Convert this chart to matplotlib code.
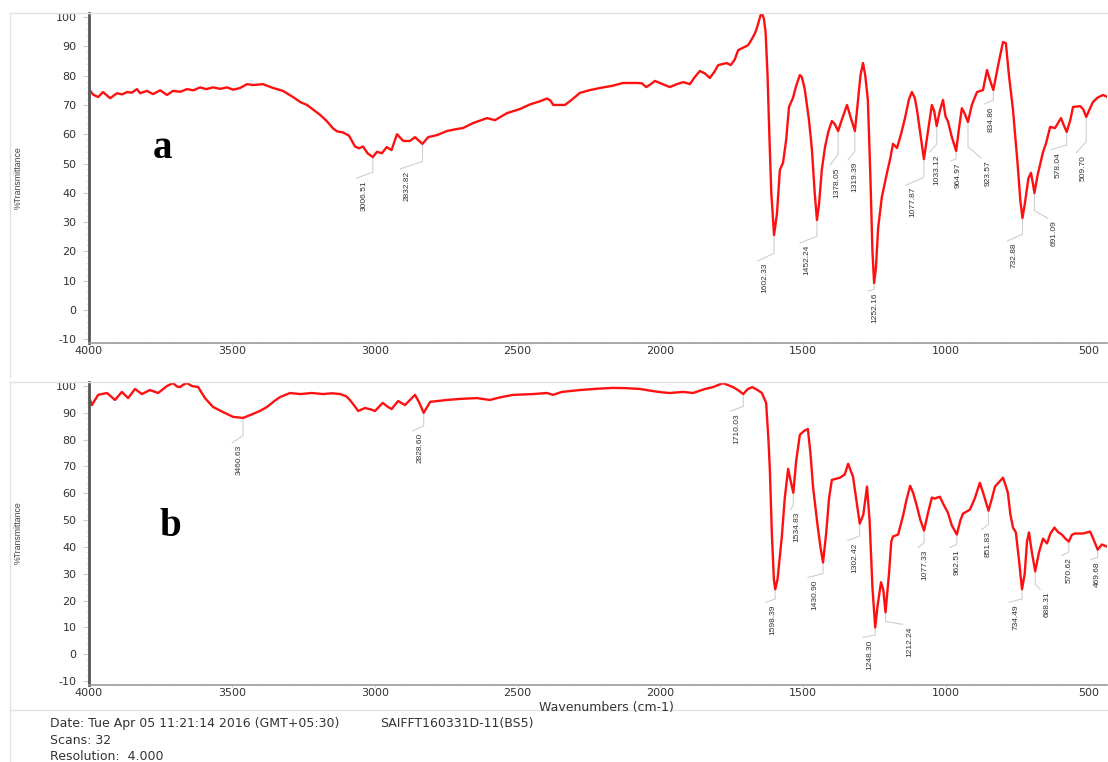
import matplotlib
matplotlib.use("Agg")
import matplotlib.pyplot as plt
import numpy as np
from matplotlib.lines import Line2D
from matplotlib.ticker import MultipleLocator

plt.rcParams["axes.unicode_minus"] = False

# spectrum a
wn_a = [4000, 3985, 3968, 3951, 3926, 3902, 3884, 3867, 3850, 3832, 3821, 3797, 3776, 3751,
        3727, 3706, 3680, 3657, 3635, 3611, 3590, 3566, 3540, 3517, 3495, 3471, 3447, 3426,
        3391, 3356, 3321, 3286, 3261, 3237, 3191, 3167, 3146, 3132, 3111, 3090, 3069, 3055,
        3041, 3025, 3006.51, 2992, 2975, 2958, 2941, 2922, 2900, 2877, 2859, 2832.82, 2813,
        2782, 2747, 2712, 2691, 2656, 2607, 2579, 2537, 2492, 2456, 2420, 2397, 2385, 2375,
        2334, 2310, 2282, 2250, 2211, 2170, 2131, 2082, 2065, 2050, 2035, 2019, 1995, 1967,
        1945, 1920, 1897, 1880, 1862, 1845, 1827, 1810, 1798, 1768, 1754, 1740, 1728, 1705,
        1693, 1680, 1669, 1660, 1650, 1645, 1638, 1632, 1625, 1619, 1612, 1602.33, 1592, 1582,
        1571, 1560, 1550, 1536, 1525, 1512, 1505, 1495, 1480, 1470, 1460, 1452.24, 1445, 1435,
        1424, 1412, 1400, 1390, 1378.05, 1365, 1347, 1335, 1319.39, 1310, 1300, 1291, 1283,
        1274, 1265, 1258, 1252.16, 1246, 1238, 1225, 1207, 1195, 1186, 1172, 1158, 1144, 1130,
        1120, 1110, 1102, 1090, 1077.87, 1065, 1050, 1042, 1033.12, 1022, 1011, 1002, 994, 980,
        964.97, 955, 945, 935, 923.57, 910, 892, 871, 857, 845, 834.86, 815, 801, 791, 780,
        766, 750, 740, 732.88, 725, 712, 703, 696, 691.09, 680, 661, 650, 636, 619, 598, 590,
        578.04, 565, 556, 531, 520, 509.70, 498, 486, 470, 451, 437]
t_a = [75.3, 73.5, 72.7, 74.4, 72.3, 74.0, 73.6, 74.4, 74.2, 75.4, 74.0, 74.8, 73.7, 75.0,
       73.4, 74.8, 74.5, 75.4, 75.0, 76.0, 75.4, 76.0, 75.5, 76.0, 75.2, 75.8, 77.1, 76.8,
       77.1, 75.8, 74.8, 72.7, 71.0, 70.0, 66.6, 64.4, 62.0, 61.0, 60.6, 59.5, 55.8, 55.2,
       55.8, 53.5, 52.2, 54.0, 53.5, 55.6, 54.6, 60.0, 57.7, 57.7, 59.0, 56.7, 59.0,
       59.7, 61.1, 61.8, 62.1, 63.8, 65.5, 64.8, 67.2, 68.6, 70.2, 71.3, 72.2, 71.5, 70.0,
       70.0, 71.8, 74.1, 75.0, 75.8, 76.5, 77.5, 77.5, 77.4, 76.1, 77.0, 78.2, 77.2, 76.1,
       77.0, 77.8, 77.1, 79.5, 81.6, 80.8, 79.2, 81.5, 83.6, 84.3, 83.6, 85.5, 88.7, 89.8,
       90.4, 92.5, 94.5, 97.0, 100.5, 101.4, 99.5, 95.0, 80.0, 60.4, 40.0, 25.6, 33.0, 47.8,
       50.2, 58.0, 69.3, 72.4, 76.5, 80.2, 79.5, 75.5, 64.8, 55.0, 40.0, 30.7, 36.0, 48.0,
       55.6, 61.0, 64.5, 63.5, 61.1, 65.0, 70.0, 66.0, 61.1, 70.0, 80.0, 84.3, 80.0,
       71.7, 45.0, 20.0, 9.2, 14.0, 28.0, 38.6, 46.8, 52.0, 56.7, 55.3, 60.0, 65.5, 72.0,
       74.4, 72.5, 68.3, 60.0, 51.5, 60.0, 70.0, 68.0, 62.8, 68.0, 71.7, 66.0, 64.5, 59.0,
       54.3, 62.0, 68.9, 67.0, 64.2, 70.0, 74.4, 75.1, 81.9, 78.0, 75.1, 85.0, 91.5, 91.1, 80.0,
       68.3, 50.0, 37.0, 31.4, 36.0, 45.0, 46.8, 43.0, 39.9, 46.0, 53.9, 57.0, 62.5, 62.1, 65.5, 63.5,
       60.8, 65.0, 69.3, 69.6, 68.5, 65.9, 68.5, 71.0, 72.5, 73.4, 72.8]

# spectrum b
wn_b = [4000, 3990, 3968, 3937, 3909, 3885, 3863, 3839, 3815, 3787, 3758, 3727, 3706, 3692,
        3681, 3670, 3657, 3640, 3618, 3594, 3566, 3531, 3496, 3460.63, 3426, 3400, 3377, 3350,
        3331, 3296, 3260, 3220, 3180, 3150, 3121, 3100, 3087, 3070, 3058, 3034, 3015, 2999,
        2972, 2955, 2941, 2918, 2894, 2870, 2859, 2845, 2828.60, 2806, 2747, 2700, 2642, 2597,
        2560, 2516, 2446, 2397, 2376, 2345, 2282, 2220, 2166, 2120, 2071, 2026, 1990, 1967,
        1921, 1886, 1844, 1816, 1781, 1760, 1746, 1730, 1710.03, 1695, 1679, 1660, 1645, 1630,
        1622, 1617, 1610, 1603, 1598.39, 1590, 1575, 1565, 1553, 1545, 1534.83, 1525, 1512,
        1498, 1484, 1475, 1466, 1450, 1440, 1430.90, 1420, 1410, 1400, 1372, 1355, 1343, 1326,
        1315, 1302.42, 1290, 1277, 1268, 1258, 1248.30, 1240, 1228, 1220, 1212.24, 1200, 1192,
        1186, 1168, 1150, 1140, 1126, 1115, 1102, 1090, 1077.33, 1065, 1050, 1040, 1032, 1022,
        1010, 994, 980, 962.51, 950, 941, 917, 900, 882, 870, 851.83, 840, 829, 801, 792, 784,
        775, 766, 756, 745, 734.49, 725, 717, 710, 700, 688.31, 675, 661, 647, 635, 621, 608,
        595, 582, 570.62, 560, 549, 521, 496, 485, 469.68, 455, 437]
t_b = [95.9, 92.9, 96.7, 97.4, 94.8, 97.8, 95.5, 98.9, 97.0, 98.5, 97.4, 100.0, 101.1, 99.8,
       99.6, 100.5, 101.1, 100.0, 99.6, 95.5, 92.2, 90.3, 88.5, 88.1, 89.6, 90.8, 92.2, 94.5,
       95.9, 97.4, 97.0, 97.4, 97.0, 97.3, 97.0, 96.2, 94.8, 92.5, 90.7, 91.8, 91.3, 90.7,
       93.7, 92.3, 91.4, 94.4, 92.9, 95.5, 96.7, 94.0, 90.0, 94.1, 94.8, 95.2, 95.5, 94.8,
       95.8, 96.7, 97.0, 97.4, 96.7, 97.8, 98.5, 99.0, 99.3, 99.2, 98.9, 98.1, 97.6, 97.4,
       97.8, 97.4, 98.9, 99.6, 101.1, 100.2, 99.6, 98.6, 97.0, 98.8, 99.6, 98.5, 97.4, 93.7,
       80.0, 68.8, 45.0, 28.0, 24.2, 28.0, 43.9, 58.0, 69.1, 65.0, 60.2, 72.0, 81.8,
       83.2, 84.0, 75.0, 62.5, 48.0, 40.0, 34.2, 45.0, 58.0, 65.0, 65.8, 67.0, 71.0, 66.2,
       58.0, 48.7, 52.0, 62.5, 50.0, 25.0, 10.0, 18.0, 26.8, 24.0, 15.6, 30.0, 42.0,
       43.9, 44.6, 52.0, 57.0, 62.8, 60.0, 55.0, 50.0, 46.1, 52.0, 58.4, 58.0, 58.4, 58.7,
       56.0, 52.8, 48.0, 44.6, 50.0, 52.4, 53.9, 58.0, 63.9, 60.0, 53.5, 58.0, 62.5, 65.8, 63.0, 60.2,
       52.0, 47.2, 45.4, 35.0, 24.2, 30.0, 42.0, 45.4, 38.0, 30.9, 38.0, 43.1, 41.3, 45.0, 47.2, 45.5,
       44.6, 43.0, 42.0, 44.5, 45.0, 45.0, 45.7, 43.0, 39.0, 40.9, 40.1]

# marked peaks
peaks_a = [3006.51, 2832.82, 1602.33, 1452.24, 1378.05, 1319.39, 1252.16, 1077.87, 1033.12,
           964.97, 923.57, 834.86, 732.88, 691.09, 578.04, 509.70]
peaks_b = [3460.63, 2828.60, 1710.03, 1598.39, 1534.83, 1430.90, 1302.42, 1248.30, 1212.24,
           1077.33, 962.51, 851.83, 734.49, 688.31, 570.62, 469.68]

# label placement below each peak (pixels right, pixels down)
offs_a = [(-9, 23), (-15, 27), (-9, 28), (-10, 25), (-1, 36), (0, 31), (1, 10), (-11, 28),
          (0, 28), (2, 12), (20, 38), (-2, 16), (-8, 25), (20, 27), (-9, 20), (-3, 38)]
offs_b = [(-4, 27), (-4, 20), (-6, 19), (-2, 15), (4, 19), (-8, 17), (-5, 19), (-5, 12),
          (24, 14), (1, 19), (0, 15), (0, 21), (-6, 15), (12, 20), (0, 16), (0, 12)]

x_ticks = [4000, 3500, 3000, 2500, 2000, 1500, 1000, 500]
y_ticks = list(range(-10, 101, 10))

W, H = 1108, 762
fig = plt.figure(figsize=(W / 100, H / 100), dpi=100)
small = "Liberation Sans"


def fx(px):
    return px / W


def fy(py):
    return 1 - py / H


def setup(ax, ylim):
    ax.set_xlim(4000, 437)
    ax.set_ylim(*ylim)
    ax.set_xticks(x_ticks)
    ax.set_yticks(y_ticks)
    ax.xaxis.set_minor_locator(MultipleLocator(100))
    ax.yaxis.set_minor_locator(MultipleLocator(2))
    for s in ["top", "right"]:
        ax.spines[s].set_visible(False)
    ax.spines["left"].set_color("#555555")
    ax.spines["left"].set_linewidth(2.0)
    ax.spines["bottom"].set_color("#9a9a9a")
    ax.spines["bottom"].set_linewidth(1.2)
    ax.tick_params(which="major", color="#cccccc", labelsize=8, labelcolor="#333333")
    ax.tick_params(which="minor", color="#dddddd")
    ax.tick_params(axis="y", which="major", length=4, pad=5)
    ax.tick_params(axis="y", which="minor", length=2.5)
    ax.tick_params(axis="x", which="major", length=1.5, pad=1)
    ax.tick_params(axis="x", which="minor", length=1)
    ax.set_facecolor("none")


def label_peaks(ax, wn, t, peaks, offs):
    wn_r = np.array(wn)[::-1]
    t_r = np.array(t)[::-1]
    inv = ax.transData.inverted()
    for p, (dx, dy) in zip(peaks, offs):
        y = np.interp(p, wn_r, t_r)
        x0, y0 = ax.transData.transform((p, y))
        pts = [(x0, y0), (x0, y0 - 0.65 * dy), (x0 + dx - 7, y0 - dy + 2)]
        xs, ys = inv.transform(pts).T
        ax.plot(xs, ys, color="#cfcfcf", lw=0.8, zorder=1, clip_on=False)
        tx, ty = inv.transform((x0 + dx, y0 - dy))
        ax.text(tx, ty, f"{p:.2f}", rotation=90, ha="center", va="top",
                fontsize=6, family=small, color="#333333", zorder=3)


ax1 = fig.add_axes([fx(89), fy(343), fx(1107 - 89), (343 - 13) / H])
setup(ax1, (-11.3, 101.4))
ax1.plot(wn_a, t_a, color="#ff1010", lw=1.7, zorder=2)
label_peaks(ax1, wn_a, t_a, peaks_a, offs_a)

ax2 = fig.add_axes([fx(89), fy(685), fx(1107 - 89), (685 - 382) / H])
setup(ax2, (-11.5, 101.5))
ax2.plot(wn_b, t_b, color="#ff1010", lw=1.7, zorder=2)
label_peaks(ax2, wn_b, t_b, peaks_b, offs_b)

fig.text(fx(18), fy(178), "%Transmittance", rotation=90, ha="center", va="center",
         fontsize=6.3, family=small, color="#444444")
fig.text(fx(18), fy(533), "%Transmittance", rotation=90, ha="center", va="center",
         fontsize=6.3, family=small, color="#444444")
fig.text(fx(162), fy(148), "a", ha="center", va="center", fontsize=28,
         family="Liberation Serif", weight="bold", color="black")
fig.text(fx(170), fy(526), "b", ha="center", va="center", fontsize=28,
         family="Liberation Serif", weight="bold", color="black")

fig.text(fx(674), fy(707.5), "Wavenumbers (cm-1)", ha="right", va="center",
         fontsize=9, color="#333333")
fig.text(fx(50), fy(723), "Date: Tue Apr 05 11:21:14 2016 (GMT+05:30)", ha="left",
         va="center", fontsize=9, color="#333333")
fig.text(fx(380), fy(723), "SAIFFT160331D-11(BS5)", ha="left", va="center",
         fontsize=9, color="#333333")
fig.text(fx(50), fy(740), "Scans: 32", ha="left", va="center", fontsize=9,
         color="#333333")
fig.text(fx(50), fy(757), "Resolution:  4.000", ha="left", va="center", fontsize=9,
         color="#333333")

# panel frames
frame = "#e2e2e2"
for (x0, y0, x1, y1) in [(10, 13, W, 13), (10, 13, 10, 377), (10, 382, W, 382),
                         (10, 382, 10, H), (10, 710, W, 710)]:
    fig.add_artist(Line2D([fx(x0), fx(x1)], [fy(y0), fy(y1)], color=frame, lw=1.0))

plt.savefig("out.png", dpi=100)
